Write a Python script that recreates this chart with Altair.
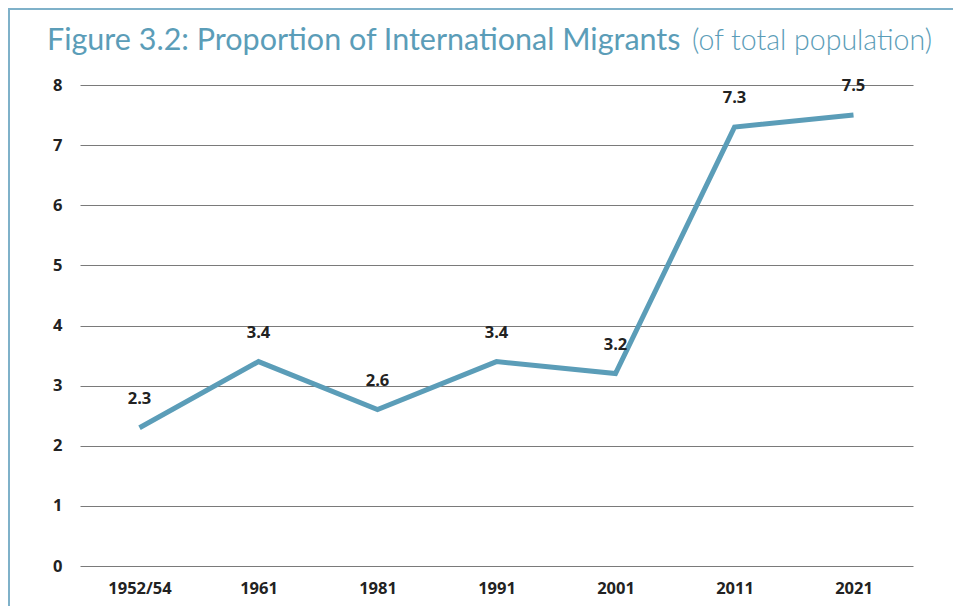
import altair as alt
import pandas as pd

years = ["1952/54", "1961", "1981", "1991", "2001", "2011", "2021"]
values = [2.3, 3.4, 2.6, 3.4, 3.2, 7.3, 7.5]
y_ticks = [0, 1, 2, 3, 4, 5, 6, 7, 8]

df = pd.DataFrame({"year": years, "value": values})

W, H = 833, 481
TEAL = "#5b9db8"
LBL = 16.5

x = alt.X("year:N", sort=years, scale=alt.Scale(paddingInner=1, paddingOuter=0.5),
          axis=alt.Axis(title=None, labelAngle=0, labelFont="Open Sans", labelFontWeight="bold",
                        labelFontSize=LBL, labelColor="#222222", labelPadding=14,
                        ticks=False, domain=False, grid=False))
y = alt.Y("value:Q", scale=alt.Scale(domain=[0, 8], nice=False),
          axis=alt.Axis(title=None, values=y_ticks, format="d", labelFont="Open Sans",
                        labelFontWeight="bold", labelFontSize=LBL, labelColor="#222222",
                        labelPadding=18, ticks=False, domain=False, grid=True,
                        gridColor="#7a7a7a", gridWidth=1))

line = alt.Chart(df).mark_line(color=TEAL, strokeWidth=5, strokeJoin="miter").encode(x=x, y=y)

labels = alt.Chart(df).mark_text(font="Open Sans", fontWeight="bold", fontSize=LBL,
                                 color="#222222", dy=-29).encode(
    x=alt.X("year:N", sort=years), y="value:Q", text=alt.Text("value:Q", format=".1f"))

title_df = pd.DataFrame({"t": ["Figure 3.2: Proportion of International Migrants"]})
title1 = alt.Chart(title_df).mark_text(font="Lato", fontSize=30.5, fontWeight="normal", color=TEAL,
                                       align="left", baseline="alphabetic").encode(
    x=alt.value(-33), y=alt.value(-35), text="t:N")
sub_df = pd.DataFrame({"t": ["(of total population)"]})
title2 = alt.Chart(sub_df).mark_text(font="Lato", fontSize=28.5, fontWeight=300, color=TEAL,
                                     align="left", baseline="alphabetic").encode(
    x=alt.value(612), y=alt.value(-35), text="t:N")

border = alt.Chart(pd.DataFrame({"a": [0]})).mark_rect(
    fill=None, stroke="#7fb1c9", strokeWidth=2).encode(
    x=alt.value(-71), x2=alt.value(W + 300), y=alt.value(-76), y2=alt.value(H + 300))

chart = alt.layer(border, line, labels, title1, title2).properties(
    width=W, height=H, autosize=alt.AutoSizeParams(type="none"),
    padding={"left": 72, "top": 77, "right": 40, "bottom": 40}
).configure_view(stroke=None)

chart.save("out.html", embed_options={"renderer": "svg", "actions": False})
